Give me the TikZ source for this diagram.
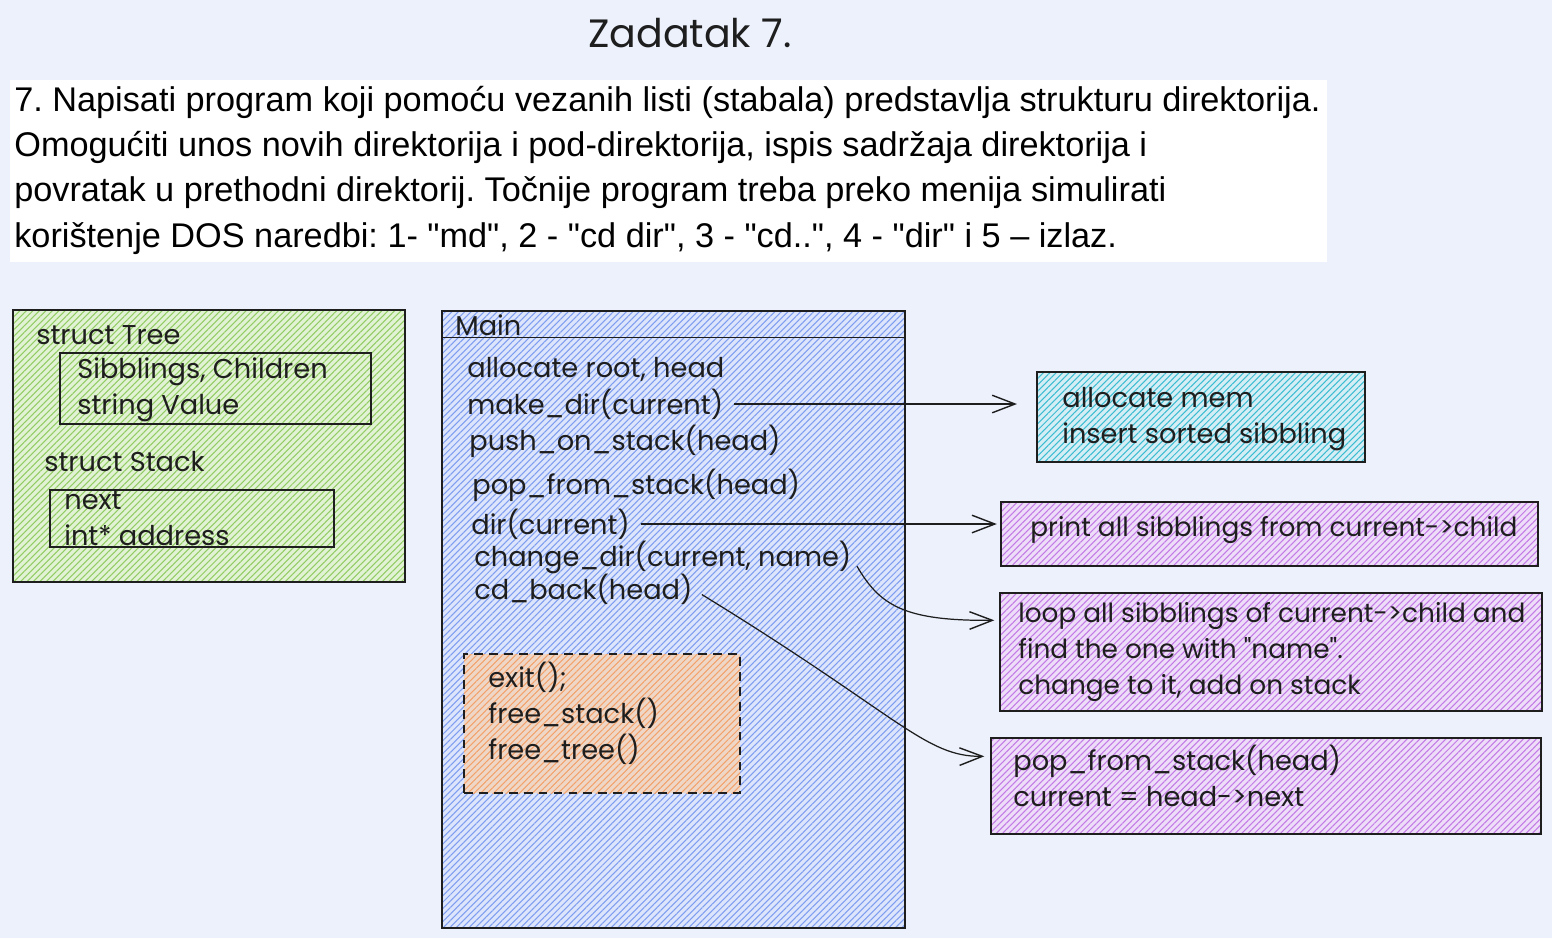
\documentclass[tikz,border=0pt]{standalone}
\usepackage{fontspec}
\setmainfont{Liberation Sans}[Ligatures=TeXOff]
\newfontfamily\handfont{Poppins}
\usetikzlibrary{arrows.meta,positioning,fit,calc,patterns.meta}

\definecolor{pagebg}{HTML}{ECF1FC}
\definecolor{inkc}{HTML}{1E1E1E}
\definecolor{greenfill}{HTML}{E2F2D4}
\definecolor{greenline}{HTML}{92CC64}
\definecolor{bluefill}{HTML}{DCE5FB}
\definecolor{blueline}{HTML}{7F9DF0}
\definecolor{cyanfill}{HTML}{D5EEF5}
\definecolor{cyanline}{HTML}{3CBCD1}
\definecolor{purplefill}{HTML}{EEDDF8}
\definecolor{purpleline}{HTML}{C27AE6}
\definecolor{orangefill}{HTML}{EFD7C8}
\definecolor{orangeline}{HTML}{F2A26A}

\tikzset{
  box/.style={draw=inkc, line width=.8pt, inner sep=0pt,
    preaction={fill=#1fill},
    preaction={pattern={Lines[angle=45,distance=2.6pt,line width=.6pt]},
      pattern color=#1line}},
  frame/.style={draw=inkc, line width=.8pt, inner sep=0pt},
  hand/.style={anchor=west, inner sep=0pt, text=inkc,
    font=\handfont\fontsize{15.5}{20.4}\selectfont},
  handsm/.style={hand, font=\handfont\fontsize{15}{20.4}\selectfont},
  conn/.style={draw=inkc, line width=.7pt,
    -{Straight Barb[length=13pt,width=10pt,line width=.8pt]}}
}

\begin{document}
\frenchspacing
\begin{tikzpicture}[x=0.02cm, y=-0.02cm]
\useasboundingbox[fill=pagebg] (0,0) rectangle (1552,938);

% title and task text
\node[hand, anchor=center, font=\handfont\fontsize{22.5}{26}\selectfont] (title) at (690,33) {Zadatak 7.};
\node[fill=white, inner sep=0pt, fit={(10,80) (1327,262)}] (taskbg) {};
\node[anchor=west, inner sep=0pt, align=left, font=\fontsize{19.5}{25.8}\selectfont] (task) at (14,170)
  {7. Napisati program koji pomoću vezanih listi (stabala) predstavlja strukturu direktorija.\\
   Omogućiti unos novih direktorija i pod-direktorija, ispis sadržaja direktorija i\\
   povratak u prethodni direktorij. Točnije program treba preko menija simulirati\\
   korištenje DOS naredbi: 1- "md", 2 - "cd dir", 3 - "cd..", 4 - "dir" i 5 – izlaz.};

% structs
\node[box=green, fit={(13,310) (405,582)}] (structs) {};
\node[hand] (treelbl) at (36,335) {struct Tree};
\node[frame, fit={(60,353) (371,424)}] (treebox) {};
\node[hand, align=left] (treeflds) at (77,390) {Sibblings, Children\\string Value};
\node[hand] (stacklbl) at (44,462) {struct Stack};
\node[frame, fit={(50,490) (334,547)}] (stackbox) {};
\node[hand, align=left] (stackflds) at (64,518) {next\\int* address};

% main
\node[box=blue, fit={(442,311) (905,928)}] (main) {};
\draw[inkc, line width=.8pt] ($(main.north west)+(0,27)$) -- ($(main.north east)+(0,27)$);
\node[hand] (mainlbl) at (455,325) {Main};
\node[hand] (allocroot) at (467,369) {allocate root, head};
\node[hand] (mkdir) at (467,404) {make\_dir(current)};
\node[hand] (push) at (469,441) {push\_on\_stack(head)};
\node[hand] (pop) at (472,485) {pop\_from\_stack(head)};
\node[hand] (dircur) at (471,524) {dir(current)};
\node[hand] (chdir) at (474,557) {change\_dir(current, name)};
\node[hand] (cdback) at (474,589) {cd\_back(head)};
\node[box=orange, dashed, dash pattern=on 5pt off 3.5pt, fit={(464,654) (740,793)}] (exitbox) {};
\node[hand, align=left] (exitcode) at (488,713) {exit();\\free\_stack()\\free\_tree()};

% functions
\node[box=cyan, fit={(1037,372) (1365,462)}] (allocmem) {};
\node[hand, align=left] (allocmemtxt) at (1062,419) {allocate mem\\insert sorted sibbling};
\node[box=purple, fit={(1001,502) (1538,566)}] (printall) {};
\node[handsm] (printalltxt) at (1030,530) {print all sibblings from current->child};
\node[box=purple, fit={(1000,593) (1542,711)}] (loopall) {};
\node[handsm, align=left] (loopalltxt) at (1018,652) {loop all sibblings of current->child and\\find the one with "name".\\change to it, add on stack};
\node[box=purple, fit={(991,738) (1541,834)}] (popback) {};
\node[hand, align=left] (popbacktxt) at (1013,776) {pop\_from\_stack(head)\\current = head->next};

% arrows
\draw[conn, shorten <=6pt, shorten >=11pt] (mkdir.east) -- (mkdir.east -| allocmem.west);
\draw[conn, shorten <=6pt, shorten >=2pt] (dircur.east) -- (dircur.east -| printall.west);
\draw[conn, shorten <=6pt] (chdir.east) .. controls (880,606) and (905,621) .. ($(loopall.north west)+(-5,28)$);
\draw[conn, shorten <=6pt] (cdback.east) .. controls (900,716) and (925,757) .. ($(popback.north west)+(-6,19)$);
\end{tikzpicture}
\end{document}
